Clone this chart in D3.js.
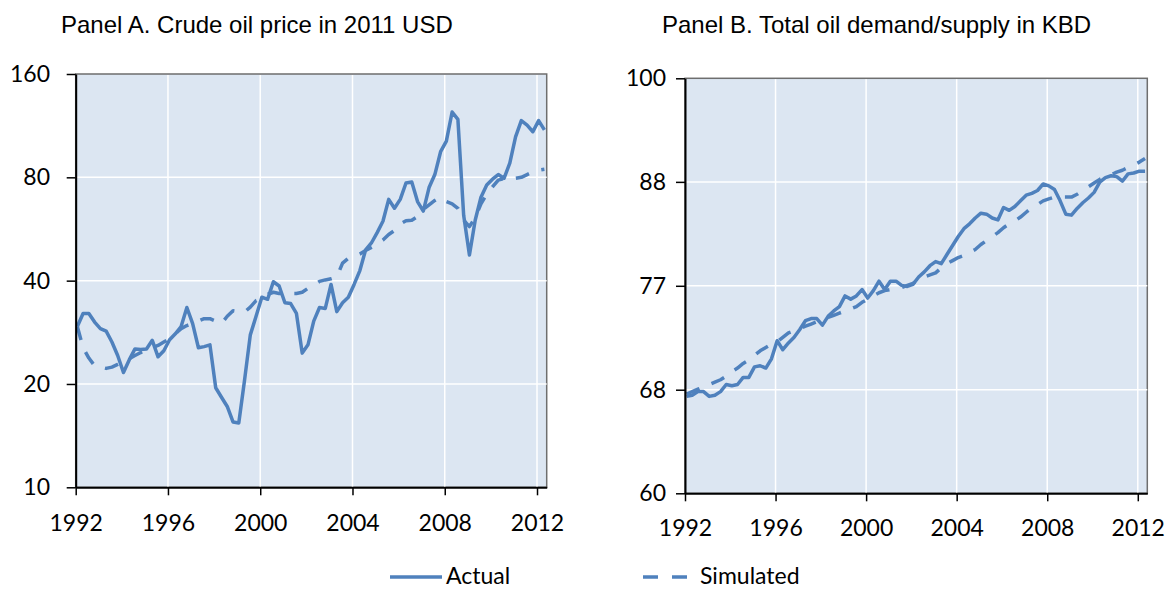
<!DOCTYPE html>
<html>
<head>
<meta charset="utf-8">
<script src="https://cdn.jsdelivr.net/npm/d3@7"></script>
<style>
  body { margin: 0; background: #ffffff; }
  .headline { font-family: "Liberation Sans", Arial, sans-serif; font-size: 24px; fill: #000; }
  .tick text, .legend text { font-family: Lato, "Open Sans", sans-serif; font-size: 23px; fill: #000; }
</style>
</head>
<body>
<div id="chart_div"></div>
<script>
//quarterly observations 1992Q1 - 2012Q2 (82 quarters)
var firstQuarter = 1992.07;

//Panel A: crude oil price in 2011 USD
var priceActual = [29.4, 32.1, 32.1, 30.3, 29.0, 28.5, 26.5, 24.2, 21.6, 23.5,
  25.3, 25.2, 25.3, 26.8, 24.0, 25.0, 26.9, 28.0, 29.4, 33.4,
  30.0, 25.5, 25.7, 26.0, 19.5, 18.3, 17.2, 15.5, 15.4, 20.5,
  27.8, 31.5, 35.8, 35.3, 39.7, 38.6, 34.5, 34.3, 32.1, 24.6,
  26.0, 30.5, 33.4, 33.2, 39.0, 32.5, 34.5, 35.8, 39.0, 42.8,
  49.2, 51.5, 55.2, 59.6, 69.0, 65.0, 69.0, 77.0, 77.5, 68.0,
  63.8, 74.7, 81.5, 95.0, 102.0, 124.0, 118.0, 62.0, 47.5, 60.0,
  70.0, 76.0, 79.0, 81.5, 79.5, 88.0, 105.0, 117.0, 113.5, 108.6,
  117.0, 110.0];

var priceSimulated = [29.4, 25.5, 23.8, 22.6, 22.4, 22.2, 22.4, 22.8, 23.2, 23.7,
  24.2, 24.7, 25.1, 25.5, 25.9, 26.5, 27.1, 28.0, 29.0, 29.6,
  30.0, 30.5, 31.0, 31.0, 30.5, 30.0, 31.5, 32.7, 32.5, 32.4,
  33.5, 35.0, 35.5, 36.5, 37.0, 36.7, 36.7, 36.7, 36.7, 37.0,
  38.0, 38.8, 39.8, 40.2, 40.5, 41.0, 45.0, 46.5, 47.0, 47.8,
  49.0, 50.0, 51.0, 52.5, 54.5, 56.0, 58.5, 59.8, 60.0, 61.5,
  64.5, 66.5, 68.5, 70.0, 68.0, 67.0, 65.0, 60.0, 57.5, 61.0,
  67.0, 71.5, 75.0, 78.5, 79.3, 79.3, 79.5, 80.0, 81.5, 83.0,
  84.0, 84.5];

//Panel B: total oil demand/supply in KBD
var demandActual = [67.6, 67.7, 68.0, 68.0, 67.6, 67.7, 68.0, 68.6, 68.5, 68.6,
  69.2, 69.2, 70.1, 70.2, 70.0, 70.8, 72.4, 71.6, 72.2, 72.7,
  73.4, 74.2, 74.4, 74.4, 73.8, 74.6, 75.1, 75.5, 76.5, 76.2,
  76.5, 77.1, 76.3, 77.0, 77.9, 77.1, 77.9, 77.9, 77.5, 77.4,
  77.6, 78.3, 78.8, 79.4, 79.8, 79.6, 80.5, 81.4, 82.3, 83.1,
  83.6, 84.2, 84.7, 84.6, 84.2, 84.0, 85.3, 85.0, 85.4, 86.0,
  86.6, 86.8, 87.1, 87.8, 87.6, 87.2, 86.0, 84.6, 84.5, 85.2,
  85.8, 86.3, 86.9, 88.0, 88.5, 88.7, 88.6, 88.1, 88.9, 89.0,
  89.2, 89.2];

var demandSimulated = [67.8, 68.0, 68.2, 68.4, 68.6, 68.8, 69.0, 69.3, 69.7, 70.0,
  70.4, 70.7, 71.1, 71.5, 71.8, 72.1, 72.3, 72.7, 73.1, 73.3,
  73.5, 73.7, 73.9, 74.1, 74.3, 74.5, 74.7, 74.9, 75.1, 75.3,
  75.5, 75.9, 76.2, 76.5, 76.8, 77.0, 77.1, 77.2, 77.3, 77.5,
  77.7, 78.0, 78.3, 78.5, 78.7, 79.2, 79.6, 79.9, 80.2, 80.4,
  80.7, 81.0, 81.5, 81.9, 82.3, 82.7, 83.2, 83.6, 83.9, 84.3,
  84.8, 85.3, 85.6, 86.0, 86.2, 86.4, 86.4, 86.4, 86.4, 86.7,
  87.1, 87.5, 87.9, 88.3, 88.6, 88.8, 89.1, 89.3, 89.6, 89.9,
  90.2, 90.6];

//axis ticks
var yearTicks = [1992, 1996, 2000, 2004, 2008, 2012];
var priceTicks = [10, 20, 40, 80, 160];
var demandTicks = [60, 68.16, 77.46, 88.03, 100]; //evenly spaced on the log axis, labels rounded

var lineColor = "#4f81bd";
var svg;

/*----------------------
INITIALIZE
----------------------*/
function init() {
  svg = d3.select("#chart_div").append("svg")
    .attr("width", 1170)
    .attr("height", 589);

  drawPanel({
    title: "Panel A. Crude oil price in 2011 USD",
    titleX: 61,
    left: 75.7, right: 546.7, top: 74, bottom: 487.3,
    yTicks: priceTicks,
    yFormat: d3.format("d"),
    labelGap: 16.7,
    xLabelOffset: 44,
    actual: priceActual,
    simulated: priceSimulated
  });

  drawPanel({
    title: "Panel B. Total oil demand/supply in KBD",
    titleX: 662,
    left: 685, right: 1147.3, top: 78.3, bottom: 493.3,
    yTicks: demandTicks,
    yFormat: function (d) { return Math.round(d); },
    labelGap: 10,
    xLabelOffset: 43,
    actual: demandActual,
    simulated: demandSimulated
  });

  drawLegend();
}

/*----------------------
ONE PANEL
----------------------*/
function drawPanel(p) {
  var g = svg.append("g");

  var x = d3.scaleLinear()
    .domain([1992, 2012.42])
    .range([p.left, p.right]);

  var y = d3.scaleLog()
    .domain([p.yTicks[0], p.yTicks[p.yTicks.length - 1]])
    .range([p.bottom, p.top]);

  //plot background
  g.append("rect")
    .attr("x", p.left)
    .attr("y", p.top)
    .attr("width", p.right - p.left)
    .attr("height", p.bottom - p.top)
    .attr("fill", "#dce6f2")
    .attr("stroke", "#6e6e6e")
    .attr("stroke-width", 1.5);

  //white gridlines
  g.selectAll(".hgrid")
    .data(p.yTicks.slice(1, -1))
    .enter().append("line")
    .attr("x1", p.left).attr("x2", p.right)
    .attr("y1", d => y(d)).attr("y2", d => y(d))
    .attr("stroke", "#ffffff")
    .attr("stroke-width", 1.5);

  g.selectAll(".vgrid")
    .data(yearTicks.slice(1))
    .enter().append("line")
    .attr("x1", d => x(d)).attr("x2", d => x(d))
    .attr("y1", p.top + 1).attr("y2", p.bottom)
    .attr("stroke", "#ffffff")
    .attr("stroke-width", 1.5);

  //lines
  var line = d3.line()
    .x((d, i) => x(firstQuarter + i * 0.25))
    .y(d => y(d));

  g.append("path")
    .datum(p.actual)
    .attr("d", line)
    .attr("fill", "none")
    .attr("stroke", lineColor)
    .attr("stroke-width", 3.5)
    .attr("stroke-linejoin", "round");

  g.append("path")
    .datum(p.simulated)
    .attr("d", line)
    .attr("fill", "none")
    .attr("stroke", lineColor)
    .attr("stroke-width", 3.5)
    .attr("stroke-dasharray", "14,13")
    .attr("stroke-linejoin", "round");

  //axes
  var yAxis = g.append("g")
    .attr("transform", `translate(${p.left},0)`)
    .call(d3.axisLeft(y)
      .tickValues(p.yTicks)
      .tickFormat(p.yFormat)
      .tickSize(9)
      .tickSizeOuter(0)
      .tickPadding(p.labelGap));

  var xAxis = g.append("g")
    .attr("transform", `translate(0,${p.bottom})`)
    .call(d3.axisBottom(x)
      .tickValues(yearTicks)
      .tickFormat(d3.format("d"))
      .tickSize(8)
      .tickSizeOuter(0));

  xAxis.selectAll(".tick text")
    .attr("y", p.xLabelOffset)
    .attr("dy", null);

  [yAxis, xAxis].forEach(function (a) {
    a.select(".domain").attr("stroke", "#000").attr("stroke-width", 2);
    a.selectAll(".tick line").attr("stroke", "#000").attr("stroke-width", 1.5);
    a.attr("font-family", null).attr("font-size", null);
  });

  //title
  svg.append("text")
    .attr("class", "headline")
    .attr("x", p.titleX)
    .attr("y", 33)
    .text(p.title);
}

/*----------------------
LEGEND
----------------------*/
function drawLegend() {
  var legend = svg.append("g").attr("class", "legend");

  legend.append("line")
    .attr("x1", 390).attr("x2", 442)
    .attr("y1", 577).attr("y2", 577)
    .attr("stroke", lineColor)
    .attr("stroke-width", 3.5);

  legend.append("text")
    .attr("x", 446)
    .attr("y", 584)
    .text("Actual");

  legend.append("line")
    .attr("x1", 643).attr("x2", 687)
    .attr("y1", 577).attr("y2", 577)
    .attr("stroke", lineColor)
    .attr("stroke-width", 3.5)
    .attr("stroke-dasharray", "15,14");

  legend.append("text")
    .attr("x", 700)
    .attr("y", 584)
    .text("Simulated");
}

init();
</script>
</body>
</html>
